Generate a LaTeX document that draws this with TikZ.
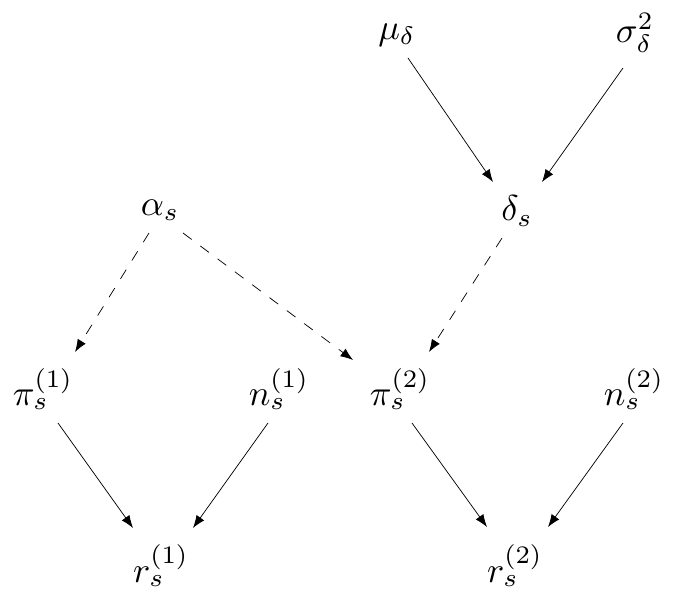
\documentclass[tikz,border=0pt]{standalone}
\usetikzlibrary{arrows.meta}
\begin{document}
\begin{tikzpicture}[x={(0.2778pt,0)},y={(0,-0.2778pt)},
  var/.style={inner sep=3pt},
  edge/.style={-{Latex[length=3.5pt,width=2.6pt]},line width=0.2pt},
  dedge/.style={edge,dash pattern=on 3pt off 3pt}]
\useasboundingbox (0,0) rectangle (681,600);
\node[var] (mu) at (397,35) {$\mu_\delta$};
\node[var] (sig) at (635,33) {$\sigma^2_\delta$};
\node[var] (del) at (517,211) {$\delta_s$};
\node[var] (alp) at (160,210) {$\alpha_s$};
\node[var] (pi1) at (43,389) {$\pi_s^{(1)}$};
\node[var] (n1) at (279,389) {$n_s^{(1)}$};
\node[var] (pi2) at (400,389) {$\pi_s^{(2)}$};
\node[var] (n2) at (634,389) {$n_s^{(2)}$};
\node[var] (r1) at (161,566) {$r_s^{(1)}$};
\node[var] (r2) at (515,566) {$r_s^{(2)}$};
\draw[edge] ([shift={(11,23)}]mu.center) -- ([shift={(-24,-29)}]del.center);
\draw[edge] ([shift={(-12,35)}]sig.center) -- ([shift={(25,-29)}]del.center);
\draw[dedge] ([shift={(-11,23)}]alp.center) -- ([shift={(32,-37)}]pi1.center);
\draw[dedge] ([shift={(23,23)}]alp.center) -- ([shift={(-47,-29)}]pi2.center);
\draw[dedge] ([shift={(-15,27)}]del.center) -- ([shift={(29,-37)}]pi2.center);
\draw[edge] ([shift={(15,34)}]pi1.center) -- ([shift={(-28,-38)}]r1.center);
\draw[edge] ([shift={(-11,34)}]n1.center) -- ([shift={(32,-38)}]r1.center);
\draw[edge] ([shift={(12,34)}]pi2.center) -- ([shift={(-28,-39)}]r2.center);
\draw[edge] ([shift={(-11,34)}]n2.center) -- ([shift={(33,-39)}]r2.center);
\end{tikzpicture}
\end{document}
